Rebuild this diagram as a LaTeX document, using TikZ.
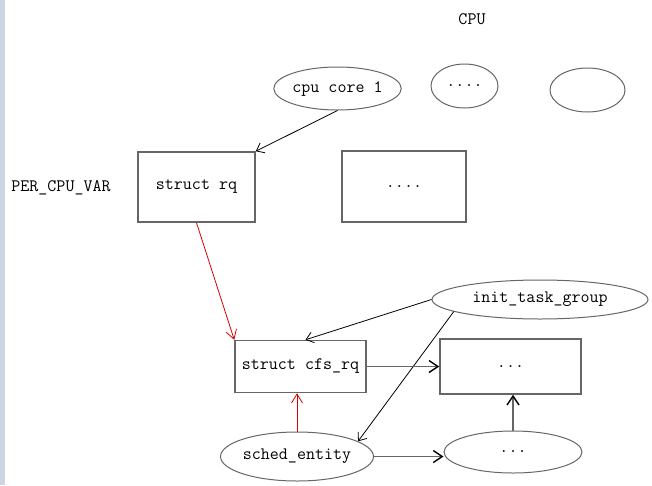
\documentclass[tikz,border=0pt]{standalone}
\usetikzlibrary{positioning,shapes.geometric,arrows.meta}
\definecolor{sidebar}{HTML}{CCD5E6}
\definecolor{linegray}{HTML}{666666}
\tikzstyle{edge} = [-{Straight Barb[length=7pt,width=11pt]}, black, line width=0.8pt]
\tikzstyle{thickedge} = [-{Straight Barb[length=9pt,width=12pt,color=black]}, draw=linegray, line width=1.4pt]
\tikzstyle{rededge} = [-{Straight Barb[length=9pt,width=11pt]}, red!85!black, line width=0.8pt]

\begin{document}
\begin{tikzpicture}[x=1pt, y=-1pt]
\tikzstyle{every node}=[align=center, inner sep=0pt, font=\fontsize{17.5}{20}\selectfont\ttfamily]
\tikzstyle{box}=[draw=linegray, line width=1.5pt, rectangle]
\tikzstyle{oval}=[draw=linegray, line width=1pt, ellipse]
	\useasboundingbox (0,0) rectangle (652,485);
	\fill[sidebar] (0,0) rectangle (5,485);

	\node (cpu) at (472, 19) {CPU};
	\node (pcv) at (61, 188) {PER\_CPU\_VAR};

	\node[oval, minimum width=117, minimum height=43] (core) at (337.5, 88.5) {cpu core 1};
	\node[oval, minimum width=67, minimum height=44] (coredots) at (464.5, 86) {....};
	\node[oval, minimum width=75, minimum height=44] (coreempty) at (587.5, 90) {};

	\node[box, minimum width=117, minimum height=70] (rq) at (196.5, 187) {struct rq};
	\node[box, minimum width=124, minimum height=71] (rqdots) at (404, 186.5) {....};

	\node[oval, minimum width=216, minimum height=39] (itg) at (540, 299.5) {init\_task\_group};
	\node[box, minimum width=131, minimum height=52] (cfs) at (300.5, 366.5) {struct cfs\_rq};
	\node[box, minimum width=141, minimum height=55] (cfsdots) at (510.5, 366.5) {...};
	\node[oval, minimum width=151, minimum height=49] (se) at (297, 456.5) {sched\_entity};
	\node[oval, minimum width=138, minimum height=42] (sedots) at (513, 452) {...};

	\draw[edge]  (core.south) to (rq.north east);
	\draw[rededge]  (rq.south) to (cfs.north west);
	\draw[edge]  (itg.west) to ([xshift=5pt]cfs.north);
	\draw[edge]  (itg.188) to (se.14);
	\draw[thickedge]  (cfs.east) to (cfs.east -| cfsdots.west);
	\draw[thickedge]  (se.east) to (se.east -| sedots.west);
	\draw[thickedge]  (sedots.north) to (sedots.north |- cfsdots.south);
	\draw[rededge]  (se.north) to (se.north |- cfs.south);
\end{tikzpicture}
\end{document}
